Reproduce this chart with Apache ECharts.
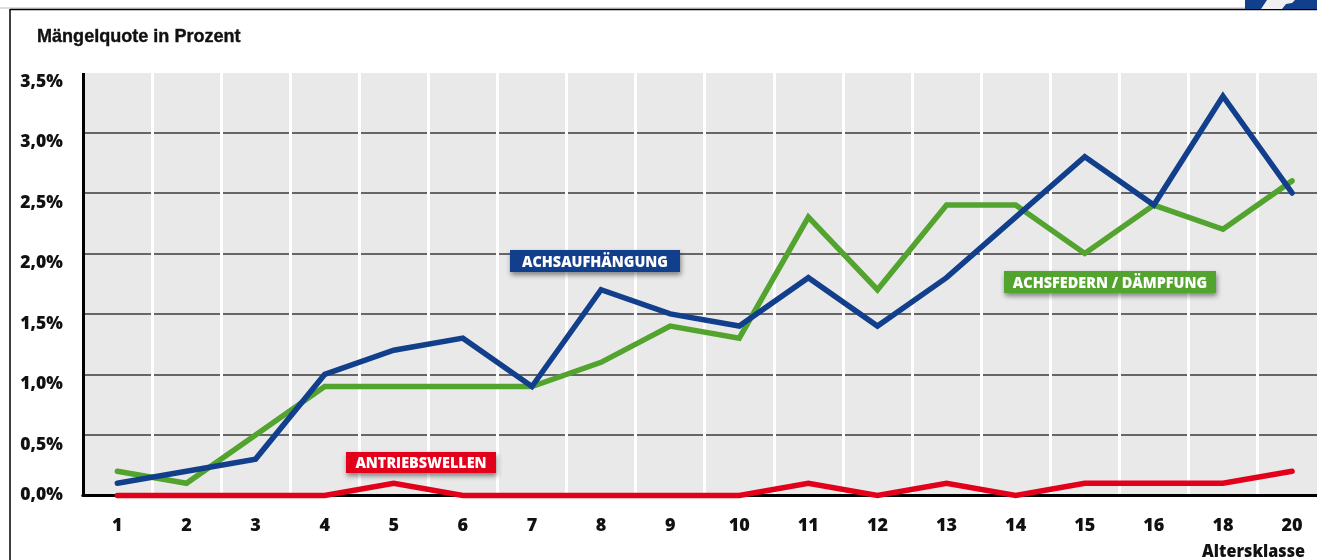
<!DOCTYPE html>
<html><head><meta charset="utf-8">
<style>html,body{margin:0;padding:0;background:#fff;overflow:hidden;width:1317px;height:560px}#c{width:1340px;height:560px}</style>
<script src="https://cdn.jsdelivr.net/npm/echarts@6/dist/echarts.min.js"></script>
</head><body><div id="c"></div>
<script>
const categories = ['1','2','3','4','5','6','7','8','9','10','11','12','13','14','15','16','18','20'];
const achsaufhaengung = [0.1,0.2,0.3,1.0,1.2,1.3,0.9,1.7,1.5,1.4,1.8,1.4,1.8,2.3,2.8,2.4,3.3,2.5];
const achsfedern = [0.2,0.1,0.5,0.9,0.9,0.9,0.9,1.1,1.4,1.3,2.3,1.7,2.4,2.4,2.0,2.4,2.2,2.6];
const antriebswellen = [0,0,0,0,0.1,0,0,0,0,0,0.1,0,0.1,0,0.1,0.1,0.1,0.2];
const BLUE='#123f8c', GREEN='#53a32f', RED='#e2001a';
const tickFont='"Open Sans"';
const Z=100;
function tag(x,y,w,h,color,text,scale){
  return {type:'group',x,y,z:Z,children:[
    {type:'rect',z:Z,shape:{x:0,y:0,width:w,height:h},style:{fill:color,shadowBlur:5,shadowOffsetX:1,shadowOffsetY:3,shadowColor:'rgba(0,0,0,0.45)'}},
    {type:'text',z:Z+1,x:w/2,y:h/2+1,scaleX:scale,style:{text,fill:'#fff',font:'800 16px "Open Sans"',align:'center',verticalAlign:'middle'}}
  ]};
}
const chart=echarts.init(document.getElementById('c'),null,{renderer:'canvas'});
chart.setOption({
  animation:false,
  backgroundColor:'#fff',
  grid:{left:82.8,top:72,width:1243.8,height:423.4,show:true,backgroundColor:'#e9e9e9',borderWidth:0,containLabel:false},
  xAxis:{type:'category',data:categories,boundaryGap:true,
    axisLine:{show:true,lineStyle:{color:'#000',width:3},onZero:false},
    axisTick:{show:false},
    axisLabel:{color:'#111',fontFamily:tickFont,fontWeight:800,fontSize:18,margin:21,interval:0,hideOverlap:false},
    splitLine:{show:true,interval:0,lineStyle:{color:'#fff',width:3}}},
  yAxis:{type:'value',min:0,max:3.5,interval:0.5,
    axisLine:{show:true,lineStyle:{color:'#000',width:3},onZero:false},
    axisTick:{show:false},
    axisLabel:{color:'#111',fontFamily:tickFont,fontWeight:800,fontSize:17.5,margin:20,padding:[1,0,0,0],align:'right',verticalAlign:'top',verticalAlignMinLabel:'middle',hideOverlap:false,
      formatter:v=>v.toFixed(1).replace('.',',')+'%'},
    splitLine:{show:true,showMinLine:false,showMaxLine:false,lineStyle:{color:'#666',width:2}}},
  series:[
    {name:'Achsfedern / Dämpfung',type:'line',data:achsfedern,symbol:'none',lineStyle:{color:GREEN,width:5.5,cap:'round',join:'miter'}},
    {name:'Achsaufhängung',type:'line',data:achsaufhaengung,symbol:'none',lineStyle:{color:BLUE,width:5.5,cap:'round',join:'miter'}},
    {name:'Antriebswellen',type:'line',data:antriebswellen,symbol:'none',clip:false,lineStyle:{color:RED,width:5.5,cap:'round',join:'miter'}}
  ],
  graphic:[
    {type:'rect',z:Z,shape:{x:78,y:68,width:1262,height:5},style:{fill:'#fff'}},
    {type:'line',z:Z,shape:{x1:0,y1:8,x2:1340,y2:8},style:{stroke:'#bbb',lineWidth:1}},
    {type:'line',z:Z,shape:{x1:10,y1:9.5,x2:1340,y2:9.5},style:{stroke:'#000',lineWidth:1.5}},
    {type:'line',z:Z,shape:{x1:10,y1:9,x2:10,y2:560},style:{stroke:'#000',lineWidth:1.5}},
    {type:'rect',z:Z,shape:{x:1245,y:0,width:95,height:9},style:{fill:BLUE}},
    {type:'polygon',z:Z+1,shape:{points:[[1261,9],[1267,0],[1295,0],[1292,3],[1286,4],[1282,9]]},style:{fill:'#f0f0f0'}},
    {type:'text',z:Z,x:37,y:36.5,scaleX:0.95,style:{text:'Mängelquote in Prozent',fill:'#111',stroke:'#111',lineWidth:0.4,font:'bold 19px "Liberation Sans"',verticalAlign:'middle'}},
    {type:'text',z:Z,x:1305,y:552,scaleX:0.95,style:{text:'Altersklasse',fill:'#111',font:'800 17px "Open Sans"',align:'right',verticalAlign:'middle'}},
    tag(510,250,170,22,BLUE,'ACHSAUFHÄNGUNG',0.9),
    tag(1004,271,212,22,GREEN,'ACHSFEDERN / DÄMPFUNG',0.9),
    tag(346,452,150,21,RED,'ANTRIEBSWELLEN',0.9)
  ]
});
</script></body></html>
